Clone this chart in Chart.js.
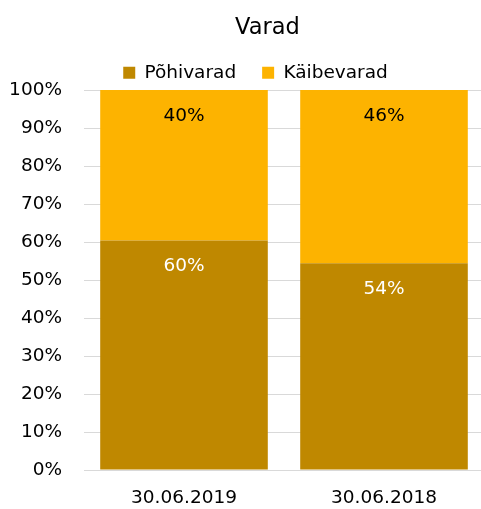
<!DOCTYPE html>
<html><head><meta charset="utf-8">
<script src="https://cdn.jsdelivr.net/npm/chart.js@4/dist/chart.umd.min.js"></script>
<style>html,body{margin:0;padding:0;background:#fff}#wrap{width:481px;height:509px}</style>
</head><body><div id="wrap"><canvas id="c" width="481" height="509"></canvas></div>
<script>
const categories = ['30.06.2019', '30.06.2018'];
const pohivarad = [60.4, 54.4];
const kaibevarad = [39.6, 45.6];
const seriesNames = ['Põhivarad', 'Käibevarad'];
const titleText = 'Varad';

const FONT = 'DejaVu Sans';
const FS = 18.5;
const labelPlugin = {
  id: 'barLabels',
  afterDatasetsDraw(chart) {
    const ctx = chart.ctx;
    ctx.save();
    ctx.font = FS + 'px "' + FONT + '"';
    ctx.textAlign = 'center';
    ctx.textBaseline = 'middle';
    chart.data.datasets.forEach((ds, i) => {
      const meta = chart.getDatasetMeta(i);
      meta.data.forEach((el, j) => {
        const v = ds.data[j];
        ctx.fillStyle = i === 0 ? '#ffffff' : '#000000';
        ctx.fillText(Math.round(v) + '%', el.x, el.y + 26);
      });
    });
    ctx.restore();
  }
};

// place title / legend like the original (offset to the right of centre)
const placePlugin = {
  id: 'place',
  afterLayout(chart) {
    const t = chart.titleBlock;
    const th = t.bottom - t.top;
    t.left += 27; t.right += 27; t.top = 15; t.bottom = t.top + th;
    const l = chart.legend;
    const lh = l.bottom - l.top;
    l.left += 15; l.right += 15; l.top = 37.5; l.bottom = l.top + lh;
    const x = chart.scales.x;
    x.right += 3; x.width += 3; x.configure();
    chart.chartArea.right += 3;
  }
};

new Chart(document.getElementById('c'), {
  type: 'bar',
  data: {
    labels: categories,
    datasets: [
      { label: seriesNames[0], data: pohivarad, backgroundColor: '#BF8800' },
      { label: seriesNames[1], data: kaibevarad, backgroundColor: '#FDB300' }
    ]
  },
  options: {
    responsive: false,
    animation: false,
    devicePixelRatio: 1,
    layout: { padding: { left: 0, right: 0, top: 8.5, bottom: 0 } },
    datasets: { bar: { categoryPercentage: 1, barPercentage: 0.838 } },
    plugins: {
      title: { display: true, text: titleText, color: '#000', font: { family: FONT, size: 22.5, weight: 'normal' }, padding: { top: 0, bottom: 0 } },
      legend: { labels: { color: '#000', boxWidth: 12, boxHeight: 12, font: { family: FONT, size: FS }, padding: 26 } },
      tooltip: { enabled: false }
    },
    scales: {
      x: {
        stacked: true,
        afterFit(s) { s.height = 39; },
        grid: { display: false, drawTicks: false },
        border: { display: false },
        ticks: { color: '#000', font: { family: FONT, size: FS }, padding: 17 }
      },
      y: {
        stacked: true,
        min: 0, max: 100,
        afterFit(s) { s.width = 84; },
        grid: { color: '#d9d9d9', drawTicks: false },
        border: { display: false },
        ticks: { stepSize: 10, color: '#000', font: { family: FONT, size: FS }, padding: 22, callback: v => v + '%' }
      }
    }
  },
  plugins: [labelPlugin, placePlugin]
});
</script></body></html>
